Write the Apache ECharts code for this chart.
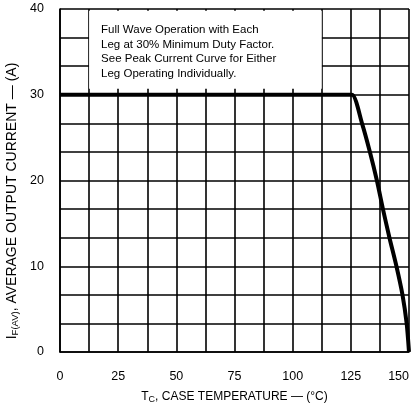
<!DOCTYPE html>
<html><head><meta charset="utf-8">
<script src="https://cdn.jsdelivr.net/npm/echarts@6/dist/echarts.min.js"></script>
<style>html,body{margin:0;padding:0;background:#fff}#c{width:412px;height:410px}</style>
</head><body><div id="c"></div>
<script>
// Data
const caseTemp = [0, 122, 125.5, 129.8, 133.2, 136.2, 138.8, 141.6, 144.6, 147.2, 149, 150];
const avgCurrent = [30, 30, 30, 26.67, 23.33, 20, 16.67, 13.33, 10, 6.67, 3.33, 0];
const xTicks = [0, 25, 50, 75, 100, 125, 150];
const yTicks = [0, 10, 20, 30, 40];
const noteLines = [
  'Full Wave Operation with Each',
  'Leg at 30% Minimum Duty Factor.',
  'See Peak Current Curve for Either',
  'Leg Operating Individually.'
];
const noteBoxX = [12.5, 112.5];
const noteBoxY = [30.7, 39.8];

const FONT = '"Liberation Sans", Arial, sans-serif';
const chart = echarts.init(document.getElementById('c'), null, {renderer: 'canvas'});
const gridLine = {color: '#000', width: 1.6};
chart.setOption({
  backgroundColor: '#fff',
  animation: false,
  grid: {left: 60, right: 3, top: 9, bottom: 58, containLabel: false},
  xAxis: {
    type: 'value', min: xTicks[0], max: xTicks[xTicks.length - 1], interval: 25,
    axisLine: {show: true, lineStyle: {color: '#000', width: 1.6}},
    axisTick: {show: false},
    minorTick: {show: false, splitNumber: 2},
    splitLine: {show: true, lineStyle: gridLine},
    minorSplitLine: {show: true, lineStyle: gridLine},
    axisLabel: {color: '#000', fontFamily: FONT, fontSize: 12.5, margin: 18, alignMaxLabel: 'right'},
    name: '{m|T}{s|C}{m|, CASE TEMPERATURE — (°C)}',
    nameLocation: 'middle', nameGap: 38,
    nameTextStyle: {rich: {
      m: {fontFamily: FONT, fontSize: 12, color: '#000'},
      s: {fontFamily: FONT, fontSize: 9, color: '#000', padding: [5, 0, 0, 0]}
    }}
  },
  yAxis: {
    type: 'value', min: yTicks[0], max: yTicks[yTicks.length - 1], interval: 10,
    axisLine: {show: true, lineStyle: {color: '#000', width: 1.6}},
    axisTick: {show: false},
    minorTick: {show: false, splitNumber: 3},
    splitLine: {show: true, lineStyle: gridLine},
    minorSplitLine: {show: true, lineStyle: gridLine},
    axisLabel: {color: '#000', fontFamily: FONT, fontSize: 12.5, margin: 16}
  },
  graphic: [{
    type: 'text',
    x: 12, y: 201, rotation: Math.PI / 2,
    style: {
      text: '{m|I}{s|F(AV)}{m|, AVERAGE OUTPUT CURRENT — (A)}',
      align: 'center', verticalAlign: 'middle',
      rich: {
        m: {fontFamily: FONT, fontSize: 14, fill: '#000'},
        s: {fontFamily: FONT, fontSize: 9.5, fill: '#000', padding: [6, 0, 0, 0]}
      }
    }
  }],
  series: [{
    type: 'line',
    data: caseTemp.map((t, i) => [t, avgCurrent[i]]),
    symbol: 'none',
    smooth: 0.25,
    lineStyle: {color: '#000', width: 4, join: 'miter'},
    z: 5,
    markArea: {
      silent: true,
      itemStyle: {color: '#fff', opacity: 1},
      label: {
        show: true, position: 'insideTopLeft',
        formatter: noteLines.join('\n'),
        color: '#000', fontFamily: FONT, fontSize: 11.5, lineHeight: 14.5,
        padding: [7, 0, 0, 7]
      },
      data: [[{xAxis: noteBoxX[0], yAxis: noteBoxY[1]}, {xAxis: noteBoxX[1], yAxis: noteBoxY[0]}]]
    }
  }]
});
</script></body></html>
